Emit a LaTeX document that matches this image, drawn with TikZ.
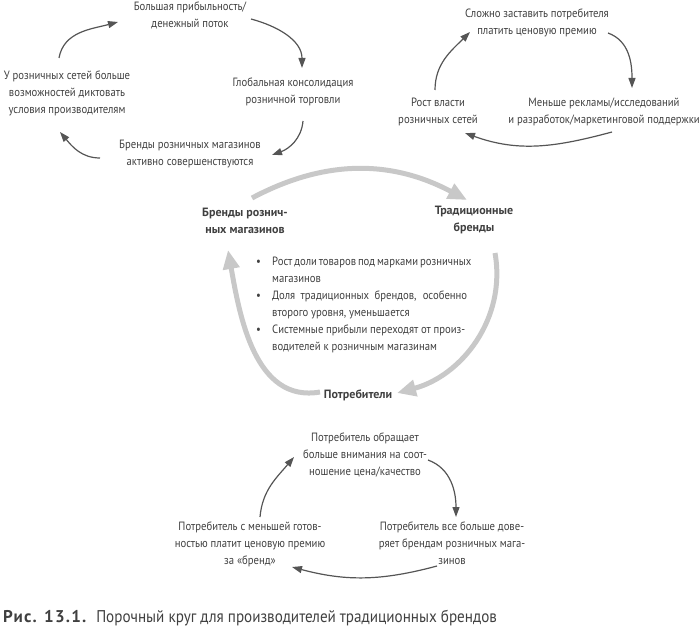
\documentclass[tikz,border=0pt]{standalone}
\usepackage{fontspec}
\setmainfont[FakeStretch=0.89]{PT Sans}
\newfontfamily\keyfont[FakeStretch=1.0]{PT Sans}
\usepackage{tikz}
\usetikzlibrary{arrows.meta,positioning}

\definecolor{txt}{HTML}{404040}
\definecolor{arr}{HTML}{555555}
\definecolor{pale}{HTML}{C8C8C8}

\begin{document}
\begin{tikzpicture}[x=1pt,y=-1pt]
		\tikzstyle{Step}	= [align=center, inner sep=0pt, text=txt, font=\fontsize{12}{17}\selectfont]
		\tikzstyle{Key}		= [Step, font=\fontsize{12}{17}\selectfont\keyfont\bfseries]
		\tikzstyle{Loop}	= [draw=arr, line width=1.2pt, -{Triangle[length=10pt,width=7pt]}]
		\tikzstyle{Big}		= [draw=pale, line width=5pt, -{Triangle[length=19pt,width=16pt]}]

		\useasboundingbox (0,0) rectangle (700,636);

		% upper left loop
		\node (prof) at (190,15) [Step] {Большая прибыльность/\\денежный поток};
		\node (cons) at (293,92) [Step] {Глобальная консолидация\\розничной торговли};
		\node (own) at (190,154) [Step] {Бренды розничных магазинов\\активно совершенствуются};
		\node (dict) at (67,93) [Step] {У розничных сетей больше\\возможностей диктовать\\условия производителям};

		\draw [Loop] ([shift={(61,4)}]prof.center) to [out=-15, in=90] ([shift={(9,-24)}]cons.center);
		\draw [Loop] ([shift={(10,29)}]cons.center) to [out=-95, in=20] ([shift={(82,1)}]own.center);
		\draw [Loop] ([shift={(-90,4)}]own.center) to [out=180, in=-50] ([shift={(-7,39)}]dict.center);
		\draw [Loop] ([shift={(-8,-35)}]dict.center) to [out=80, in=195] ([shift={(-72,7)}]prof.center);

		% upper right loop
		\node (hard) at (537,23) [Step] {Сложно заставить потребителя\\платить ценовую премию};
		\node (less) at (604,112) [Step] {Меньше рекламы/исследований\\и разработок/маркетинговой поддержки};
		\node (rost) at (438,112) [Step] {Рост власти\\розничных сетей};

		\draw [Loop] ([shift={(71,10)}]hard.center) to [out=-20, in=90] ([shift={(28,-24)}]less.center);
		\draw [Loop] ([shift={(8,20)}]less.center) to [out=-165, in=-20] ([shift={(27,21)}]rost.center);
		\draw [Loop] ([shift={(-3,-22)}]rost.center) to [out=90, in=-135] ([shift={(-67,9)}]hard.center);

		% main loop
		\node (retail) at (245,221) [Key] {Бренды рознич-\\ных магазинов};
		\node (trad) at (474,220) [Key] {Традиционные\\бренды};
		\node (users) at (358,395) [Key] {Потребители};
		\node (facts) at (256,305) [Step, anchor=west, align=left] {%
			\makebox[16pt][l]{\textbullet}\makebox[195pt][s]{Рост доли товаров под марками розничных}\\
			\hspace*{16pt}магазинов\\
			\makebox[16pt][l]{\textbullet}\makebox[195pt][s]{Доля традиционных брендов, особенно}\\
			\hspace*{16pt}второго уровня, уменьшается\\
			\makebox[16pt][l]{\textbullet}\makebox[193pt][s]{Системные прибыли переходят от произ-}\\
			\hspace*{16pt}водителей к розничным магазинам};

		\draw [Big] ([shift={(7,-23)}]retail.center) to [out=28, in=152] ([shift={(-7,-20)}]trad.center);
		\draw [Big] ([shift={(21,33)}]trad.center) to [out=-80, in=15] ([shift={(39,-2)}]users.center);
		\draw [Big] ([shift={(-38,-3)}]users.center) to [out=190, in=-80] ([shift={(-17,29)}]retail.center);

		% lower loop
		\node (obr) at (365,455) [Step] {Потребитель обращает\\больше внимания на соот-\\ношение цена/качество};
		\node (trust) at (452,543) [Step] {Потребитель все больше дове-\\ряет брендам розничных мага-\\зинов};
		\node (ready) at (250,544) [Step] {Потребитель с меньшей готов-\\ностью платит ценовую премию\\за «бренд»};

		\draw [Loop] ([shift={(63,5)}]obr.center) to [out=-20, in=90] ([shift={(4,-26)}]trust.center);
		\draw [Loop] ([shift={(-15,23)}]trust.center) to [out=-165, in=-15] ([shift={(42,23)}]ready.center);
		\draw [Loop] ([shift={(10,-27)}]ready.center) to [out=85, in=-130] ([shift={(-71,2)}]obr.center);

		% caption
		\node (cap) at (3,618) [Step, anchor=west, font=\fontsize{17}{19}\selectfont] {{\keyfont\bfseries\addfontfeature{LetterSpace=7}Рис. 13.1.}\hspace{10pt}Порочный круг для производителей традиционных брендов};
	\end{tikzpicture}
\end{document}
